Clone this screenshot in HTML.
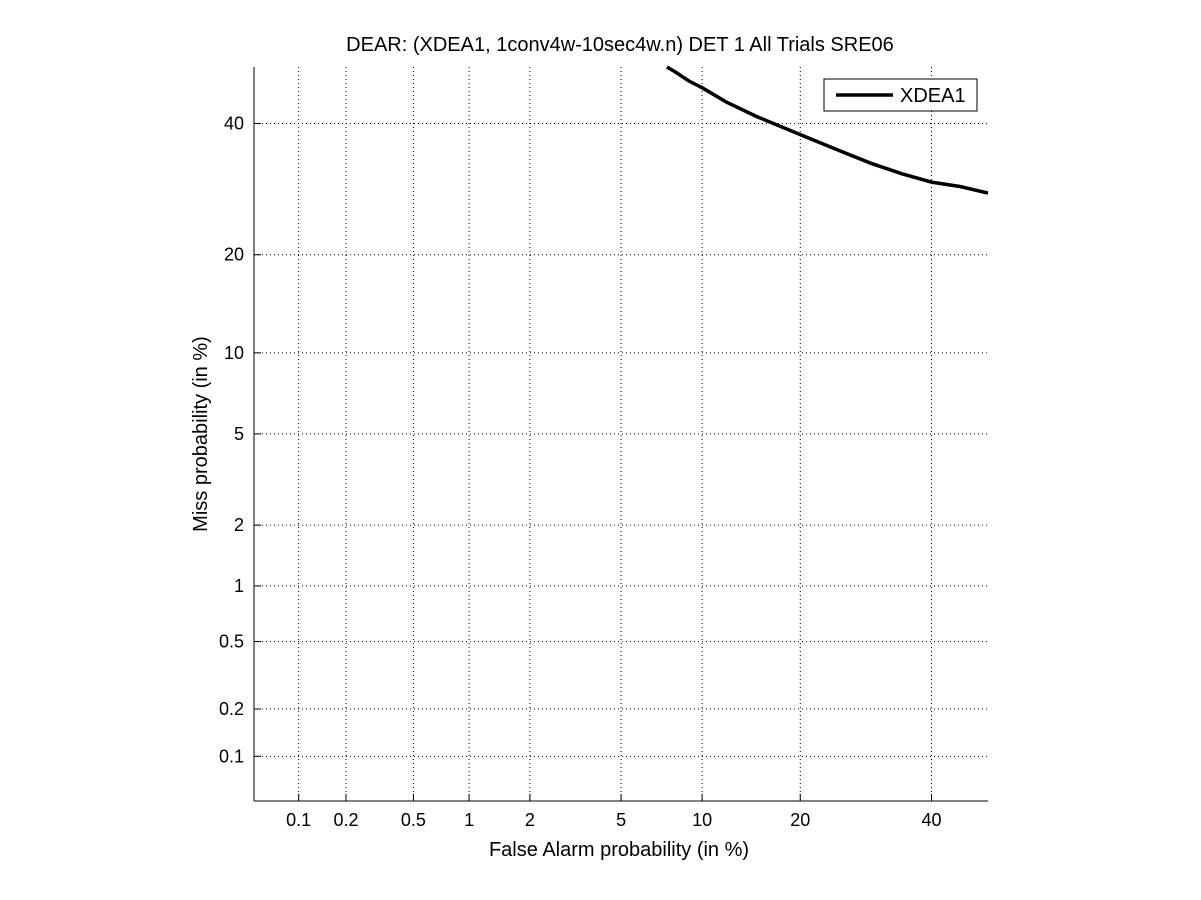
<!DOCTYPE html>
<html><head><meta charset="utf-8"><style>
body{margin:0;background:#fff;}
svg{display:block;font-family:"Liberation Sans",sans-serif;}
</style></head><body>
<svg id="chart" width="1201" height="900">
<rect x="0" y="0" width="1201" height="900" fill="#fff"/>
<text x="620" y="51" text-anchor="middle" font-size="20">DEAR: (XDEA1, 1conv4w-10sec4w.n) DET 1 All Trials SRE06</text>
<text x="619" y="856" text-anchor="middle" font-size="20">False Alarm probability (in %)</text>
<text x="207" y="434" text-anchor="middle" font-size="20" transform="rotate(-90 207 434)">Miss probability (in %)</text>
<g id="grid"></g>
<g id="ticks"></g>
<line x1="254" y1="67" x2="254" y2="801" stroke="#000"/>
<line x1="254" y1="801" x2="988" y2="801" stroke="#000"/>
<path id="curve" fill="none" stroke="#000" stroke-width="3.5"/>
<g>
<rect x="824" y="79" width="153" height="32" fill="#fff" stroke="#000"/>
<line x1="836" y1="95" x2="893" y2="95" stroke="#000" stroke-width="3.5"/>
<text x="900" y="102" font-size="20">XDEA1</text>
</g>
</svg>
<script>
const tickValues=[0.1,0.2,0.5,1,2,5,10,20,40];
const tickLabels=["0.1","0.2","0.5","1","2","5","10","20","40"];
const faRate=[7.5,8,9,10,12,15,20,25,30,35,40,45,50];
const missRate=[50,49.2,47.5,46.3,43.8,41.2,38.1,35.5,33.3,31.6,30.3,29.6,28.6];

function probit(p){
  const a=[-39.69683028665376,220.9460984245205,-275.9285104469687,138.357751867269,-30.66479806614716,2.506628277459239];
  const b=[-54.47609879822406,161.5858368580409,-155.6989798598866,66.80131188771972,-13.28068155288572];
  const c=[-0.007784894002430293,-0.3223964580411365,-2.400758277161838,-2.549732539343734,4.374664141464968,2.938163982698783];
  const d=[0.007784695709041462,0.3224671290700398,2.445134137142996,3.754408661907416];
  let q,r;
  if(p<0.02425){q=Math.sqrt(-2*Math.log(p));return (((((c[0]*q+c[1])*q+c[2])*q+c[3])*q+c[4])*q+c[5])/((((d[0]*q+d[1])*q+d[2])*q+d[3])*q+1);}
  if(p>1-0.02425){q=Math.sqrt(-2*Math.log(1-p));return -(((((c[0]*q+c[1])*q+c[2])*q+c[3])*q+c[4])*q+c[5])/((((d[0]*q+d[1])*q+d[2])*q+d[3])*q+1);}
  q=p-0.5;r=q*q;return (((((a[0]*r+a[1])*r+a[2])*r+a[3])*r+a[4])*r+a[5])*q/(((((b[0]*r+b[1])*r+b[2])*r+b[3])*r+b[4])*r+1);
}
const zMin=probit(0.0005), zMax=0;
function xs(v){return 254+(probit(v/100)-zMin)/(zMax-zMin)*734;}
function ys(v){return 801-(probit(v/100)-zMin)/(zMax-zMin)*734;}
const NS="http://www.w3.org/2000/svg";
const grid=document.getElementById('grid'), ticks=document.getElementById('ticks');
function mk(tag,attrs,parent){const e=document.createElementNS(NS,tag);for(const k in attrs)e.setAttribute(k,attrs[k]);parent.appendChild(e);return e;}
tickValues.forEach((v,i)=>{
  const x=xs(v), y=ys(v);
  const gx=mk('line',{x1:x,y1:67,x2:x,y2:801,stroke:'#000','stroke-width':1,'stroke-dasharray':'1,3'},grid);
  
  
  const gy=mk('line',{x1:254,y1:y,x2:988,y2:y,stroke:'#000','stroke-width':1,'stroke-dasharray':'1,3'},grid);
  
  
  mk('line',{x1:x,y1:801,x2:x,y2:794,stroke:'#000'},ticks);
  mk('line',{x1:254,y1:y,x2:261,y2:y,stroke:'#000'},ticks);
  const tx=mk('text',{x:x,y:826,'text-anchor':'middle','font-size':18},ticks);
  tx.textContent=tickLabels[i];
  
  
  const ty=mk('text',{x:244,y:y+6,'text-anchor':'end','font-size':18},ticks);
  ty.textContent=tickLabels[i];
  
  
});
let d='';
faRate.forEach((f,i)=>{d+=(i?'L':'M')+xs(f).toFixed(1)+','+ys(missRate[i]).toFixed(1);});
document.getElementById('curve').setAttribute('d',d);
</script>
</body></html>
